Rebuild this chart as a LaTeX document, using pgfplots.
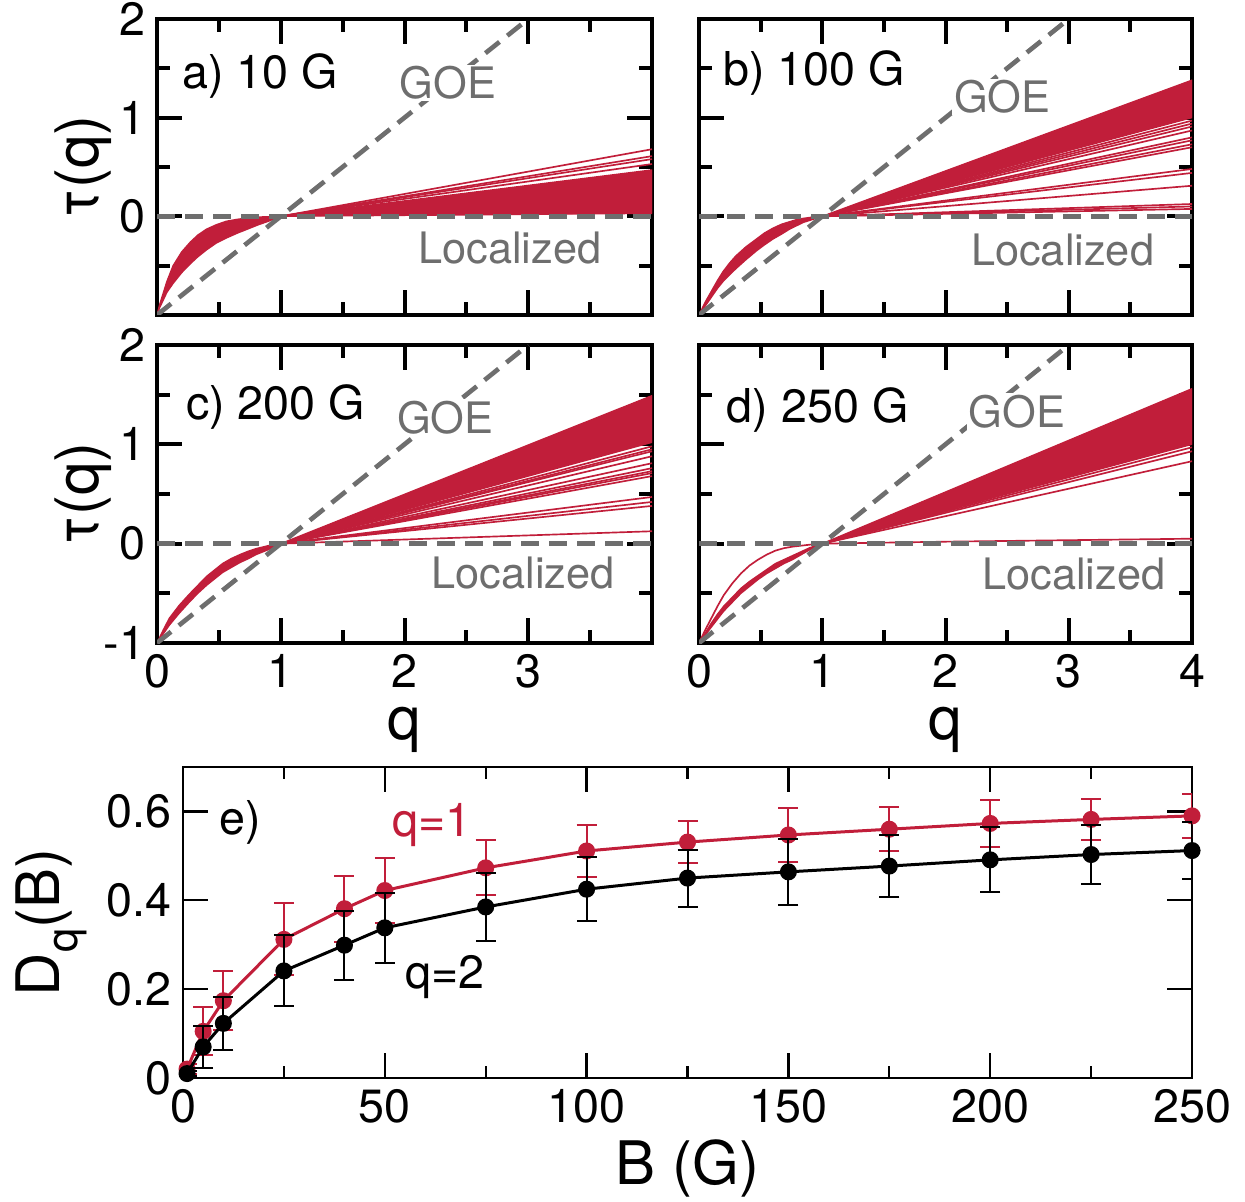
\documentclass[border=0pt]{standalone}
\usepackage{fontspec}
\setmainfont{TeX Gyre Heros}
\usepackage{pgfplots}
\pgfplotsset{compat=1.18}
\definecolor{crim}{HTML}{C11E3A}
\definecolor{dgray}{HTML}{6E6E6E}

\pgfplotsset{
  tauax/.style={
    scale only axis, width=148.5pt, height=88.8pt,
    xmin=0, xmax=4, ymin=-1, ymax=2,
    xtick={0,1,2,3,4}, ytick={-1,0,1,2},
    minor xtick={0.5,1.5,2.5,3.5}, minor ytick={-0.5,0.5,1.5},
    tick align=inside, major tick length=7.5pt, minor tick length=3.9pt,
    tick style={black, line width=1.2pt},
    axis line style={line width=1.2pt},
    tick label style={font=\fontsize{14}{14}\selectfont},
    label style={font=\fontsize{18}{18}\selectfont},
    xticklabels={}, yticklabels={},
    ylabel style={at={(axis description cs:-0.15,0.5)}, anchor=center},
    xlabel style={at={(axis description cs:0.5,-0.29)}, anchor=center},
  },
  band/.style={crim, fill=crim, line width=0.4pt},
  tl/.style={crim, line width=0.5pt},
  ref/.style={dgray, line width=1.4pt, dash pattern=on 5.4pt off 3pt},
}
\tikzset{
  plab/.style={anchor=west, inner sep=0pt, font=\fontsize{14}{14}\selectfont},
  glab/.style={text=dgray, fill=white, inner sep=0.5pt, font=\fontsize{13}{13}\selectfont},
  llab/.style={text=dgray, inner sep=0.5pt, font=\fontsize{13}{13}\selectfont},
}

\begin{document}
\begin{tikzpicture}
\useasboundingbox (0,0) rectangle (373.5pt,-360.3pt);

% a) 10 G
\begin{axis}[tauax, at={(47.1pt,-94.5pt)}, anchor=south west,
  yticklabels={,0,1,2}, ylabel={τ(q)}]
\addplot[band] coordinates {(0,-1)(0.02,-0.9)(0.05,-0.78)(0.08,-0.66)(0.13,-0.5)(0.2,-0.36)(0.27,-0.26)(0.33,-0.19)(0.4,-0.13)
  (0.48,-0.085)(0.56,-0.05)(0.65,-0.03)(0.75,-0.015)(0.85,-0.006)(1,0)
  (0.95,-0.025)(0.9,-0.05)(0.82,-0.085)(0.75,-0.12)(0.65,-0.17)(0.56,-0.22)(0.48,-0.27)(0.4,-0.34)(0.33,-0.41)
  (0.27,-0.48)(0.2,-0.57)(0.13,-0.68)(0.08,-0.77)(0.05,-0.85)(0.02,-0.93)(0,-1)};
\addplot[band] coordinates {(1,0)(4,0.47)(4,0.03)(1,0)};
\addplot[tl] coordinates {(1,0)(4,0.68)};
\addplot[tl] coordinates {(1,0)(4,0.61)};
\addplot[tl] coordinates {(1,0)(4,0.58)};
\addplot[tl] coordinates {(1,0)(4,0.53)};
\addplot[ref] coordinates {(0,-1)(3,2)};
\addplot[ref] coordinates {(0,0)(4,0)};
\node[glab] at (axis cs:2.35,1.35) {GOE};
\node[llab] at (axis cs:2.85,-0.32) {Localized};
\node[plab] at (axis cs:0.2,1.42) {a) 10 G};
\end{axis}

% b) 100 G
\begin{axis}[tauax, at={(209.7pt,-94.5pt)}, anchor=south west, width=147.9pt]
\addplot[band] coordinates {(0,-1)(0.05,-0.87)(0.1,-0.76)(0.15,-0.65)(0.195,-0.56)(0.25,-0.47)(0.3,-0.4)(0.38,-0.31)(0.466,-0.23)
  (0.53,-0.17)(0.6,-0.12)(0.67,-0.08)(0.737,-0.054)(0.8,-0.03)(0.85,-0.02)(0.92,-0.008)(1,0)
  (0.96,-0.015)(0.927,-0.03)(0.85,-0.06)(0.8,-0.09)(0.737,-0.128)(0.67,-0.18)(0.6,-0.23)(0.53,-0.29)(0.466,-0.35)
  (0.38,-0.44)(0.3,-0.53)(0.25,-0.59)(0.195,-0.66)(0.15,-0.73)(0.1,-0.82)(0.05,-0.91)(0,-1)};
\addplot[band] coordinates {(1,0)(4,1.38)(4,1.0)(1,0)};
\addplot[tl] coordinates {(1,0)(4,0.97)};
\addplot[tl] coordinates {(1,0)(4,0.94)};
\addplot[tl] coordinates {(1,0)(4,0.91)};
\addplot[tl] coordinates {(1,0)(4,0.87)};
\addplot[tl] coordinates {(1,0)(4,0.80)};
\addplot[tl] coordinates {(1,0)(4,0.77)};
\addplot[tl] coordinates {(1,0)(4,0.73)};
\addplot[tl] coordinates {(1,0)(4,0.70)};
\addplot[tl] coordinates {(1,0)(4,0.48)};
\addplot[tl] coordinates {(1,0)(4,0.44)};
\addplot[tl] coordinates {(1,0)(4,0.31)};
\addplot[tl] coordinates {(1,0)(4,0.125)};
\addplot[tl] coordinates {(1,0)(4,0.10)};
\addplot[tl] coordinates {(1,0)(4,0.075)};
\addplot[ref] coordinates {(0,-1)(3,2)};
\addplot[ref] coordinates {(0,0)(4,0)};
\node[glab] at (axis cs:2.46,1.21) {GOE};
\node[llab] at (axis cs:2.95,-0.34) {Localized};
\node[plab] at (axis cs:0.19,1.45) {b) 100 G};
\end{axis}

% c) 200 G
\begin{axis}[tauax, at={(47.1pt,-192.9pt)}, anchor=south west, height=89.4pt,
  yticklabels={-1,0,1,2}, xticklabels={0,1,2,3,}, ylabel={τ(q)}, xlabel={q}]
\addplot[band] coordinates {(0,-1)(0.05,-0.87)(0.1,-0.75)(0.18,-0.62)(0.26,-0.51)(0.33,-0.42)(0.4,-0.33)(0.47,-0.26)(0.53,-0.2)
  (0.6,-0.15)(0.67,-0.11)(0.74,-0.075)(0.8,-0.05)(0.9,-0.02)(1,0)
  (0.95,-0.03)(0.9,-0.06)(0.8,-0.11)(0.74,-0.15)(0.67,-0.19)(0.6,-0.24)(0.53,-0.29)(0.47,-0.35)(0.4,-0.42)
  (0.33,-0.5)(0.26,-0.59)(0.18,-0.7)(0.1,-0.82)(0.05,-0.91)(0,-1)};
\addplot[band] coordinates {(1,0)(4,1.49)(4,1.02)(1,0)};
\addplot[tl] coordinates {(1,0)(4,0.98)};
\addplot[tl] coordinates {(1,0)(4,0.95)};
\addplot[tl] coordinates {(1,0)(4,0.93)};
\addplot[tl] coordinates {(1,0)(4,0.88)};
\addplot[tl] coordinates {(1,0)(4,0.81)};
\addplot[tl] coordinates {(1,0)(4,0.76)};
\addplot[tl] coordinates {(1,0)(4,0.73)};
\addplot[tl] coordinates {(1,0)(4,0.71)};
\addplot[tl] coordinates {(1,0)(4,0.68)};
\addplot[tl] coordinates {(1,0)(4,0.47)};
\addplot[tl] coordinates {(1,0)(4,0.42)};
\addplot[tl] coordinates {(1,0)(4,0.38)};
\addplot[tl] coordinates {(1,0)(4,0.125)};
\addplot[ref] coordinates {(0,-1)(3,2)};
\addplot[ref] coordinates {(0,0)(4,0)};
\node[glab] at (axis cs:2.33,1.27) {GOE};
\node[llab] at (axis cs:2.96,-0.30) {Localized};
\node[plab] at (axis cs:0.23,1.38) {c) 200 G};
\end{axis}

% d) 250 G
\begin{axis}[tauax, at={(209.7pt,-192.9pt)}, anchor=south west, width=147.9pt, height=89.4pt,
  xticklabels={0,1,2,3,4}, xlabel={q}]
\addplot[band] coordinates {(0,-1)(0.05,-0.9)(0.1,-0.8)(0.15,-0.71)(0.2,-0.63)(0.27,-0.54)(0.34,-0.45)(0.41,-0.38)(0.48,-0.32)
  (0.55,-0.26)(0.62,-0.2)(0.69,-0.16)(0.76,-0.12)(0.83,-0.08)(0.9,-0.04)(1,0)
  (0.95,-0.035)(0.9,-0.06)(0.83,-0.11)(0.76,-0.16)(0.69,-0.2)(0.62,-0.25)(0.55,-0.3)(0.48,-0.36)(0.41,-0.43)
  (0.34,-0.5)(0.27,-0.59)(0.2,-0.68)(0.15,-0.76)(0.1,-0.84)(0.05,-0.92)(0,-1)};
\addplot[tl] coordinates {(0,-1)(0.05,-0.87)(0.1,-0.75)(0.15,-0.63)(0.2,-0.52)(0.27,-0.4)(0.34,-0.3)(0.41,-0.22)(0.48,-0.16)
  (0.55,-0.11)(0.62,-0.07)(0.69,-0.045)(0.76,-0.03)(0.9,-0.01)(1,0)(2,0.02)(4,0.05)};
\addplot[band] coordinates {(1,0)(4,1.56)(4,1.0)(1,0)};
\addplot[tl] coordinates {(1,0)(4,0.97)};
\addplot[tl] coordinates {(1,0)(4,0.93)};
\addplot[tl] coordinates {(1,0)(4,0.83)};
\addplot[ref] coordinates {(0,-1)(3,2)};
\addplot[ref] coordinates {(0,0)(4,0)};
\node[glab] at (axis cs:2.58,1.33) {GOE};
\node[llab] at (axis cs:3.04,-0.31) {Localized};
\node[plab] at (axis cs:0.22,1.35) {d) 250 G};
\end{axis}

% e) D_q(B)
\begin{axis}[scale only axis, width=302.7pt, height=93.3pt,
  at={(54.9pt,-323.4pt)}, anchor=south west,
  xmin=0, xmax=250, ymin=0, ymax=0.7,
  xtick={0,50,100,150,200,250}, xticklabels={0,50,100,150,200,250},
  minor xtick={25,75,125,175,225},
  ytick={0,0.2,0.4,0.6}, yticklabels={0,0.2,0.4,0.6},
  tick align=inside, major tick length=7.5pt, minor tick length=3.6pt,
  tick style={black, line width=0.7pt},
  axis line style={line width=0.8pt},
  tick label style={font=\fontsize{14}{14}\selectfont},
  label style={font=\fontsize{18}{18}\selectfont},
  xlabel={B (G)}, ylabel={D\raisebox{-0.3em}{\fontsize{13}{13}\selectfont q}(B)},
  xlabel style={at={(axis description cs:0.5,-0.29)}, anchor=center},
  ylabel style={at={(axis description cs:-0.13,0.5)}, anchor=center},
  clip mode=individual,
]
\addplot[crim, line width=0.9pt, mark=*, mark size=2.1pt, mark options={fill=crim, draw=crim},
  error bars/.cd, y dir=both, y explicit,
  error bar style={line width=0.6pt},
  error mark options={rotate=90, mark size=3pt, line width=0.6pt}]
  table[x=B, y=D, y error=E] {
B D E
1 0.02 0.012
5 0.105 0.054
10 0.174 0.067
25 0.312 0.081
40 0.381 0.074
50 0.422 0.074
75 0.473 0.062
100 0.511 0.059
125 0.531 0.048
150 0.547 0.06
175 0.560 0.05
200 0.573 0.052
225 0.582 0.046
250 0.590 0.049
};
\addplot[black, line width=0.9pt, mark=*, mark size=2.1pt, mark options={fill=black},
  error bars/.cd, y dir=both, y explicit,
  error bar style={line width=0.6pt},
  error mark options={rotate=90, mark size=3pt, line width=0.6pt}]
  table[x=B, y=D, y error=E] {
B D E
1 0.01 0.006
5 0.070 0.047
10 0.123 0.059
25 0.241 0.080
40 0.299 0.078
50 0.338 0.079
75 0.385 0.077
100 0.425 0.072
125 0.450 0.064
150 0.464 0.074
175 0.477 0.07
200 0.491 0.073
225 0.503 0.067
250 0.512 0.064
};
\node[plab] at (axis cs:8.9,0.575) {e)};
\node[text=crim, inner sep=0pt, font=\fontsize{14}{14}\selectfont] at (axis cs:61.7,0.57) {q=1};
\node[inner sep=0pt, font=\fontsize{14}{14}\selectfont] at (axis cs:65,0.228) {q=2};
\end{axis}
\end{tikzpicture}
\end{document}
